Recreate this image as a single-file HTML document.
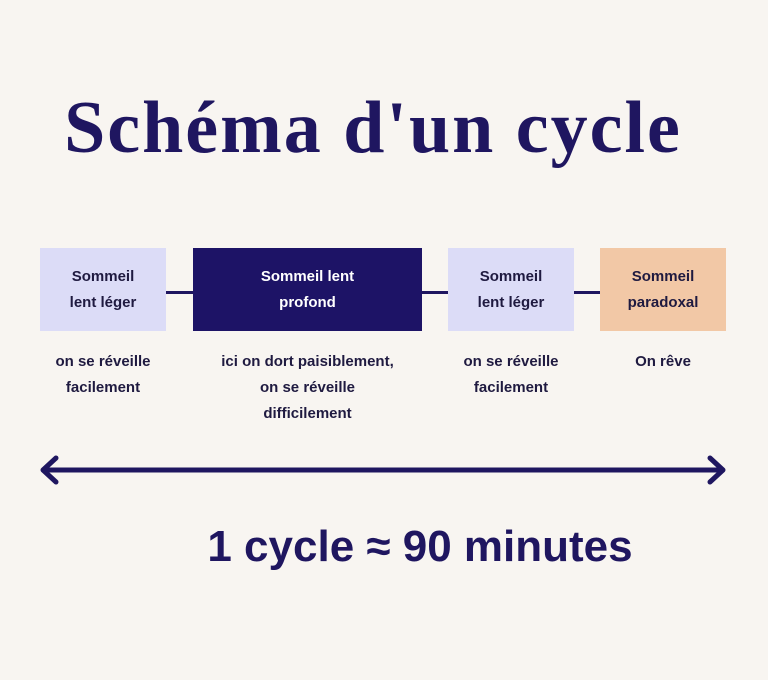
<!DOCTYPE html>
<html><head><meta charset="utf-8"><style>
body{margin:0;width:768px;height:680px;background:#f8f5f1;overflow:hidden;position:relative;font-family:"Liberation Sans",sans-serif;color:#1f1660}
.t{position:absolute;left:0;width:746px;top:86px;text-align:center;font-family:"Liberation Serif",serif;font-weight:bold;font-size:74px;letter-spacing:2px;line-height:84px}
.b{position:absolute;top:248px;height:83px;display:flex;align-items:center;justify-content:center;text-align:center;font-weight:bold;font-size:15px;line-height:26px;color:#1f1a40}
.l{position:absolute;top:291px;height:3px;background:#1f1660}
.d{position:absolute;top:349px;text-align:center;font-weight:bold;font-size:15px;line-height:26px;color:#1f1a40}
</style></head><body>
<div class="t">Schéma d'un cycle</div>
<div class="l" style="left:166px;width:27px"></div>
<div class="l" style="left:422px;width:26px"></div>
<div class="l" style="left:574px;width:26px"></div>
<div class="b" style="left:40px;width:126px;background:#dcdcf7">Sommeil<br>lent léger</div>
<div class="b" style="left:193px;width:229px;background:#1d1366;color:#fff">Sommeil lent<br>profond</div>
<div class="b" style="left:448px;width:126px;background:#dcdcf7">Sommeil<br>lent léger</div>
<div class="b" style="left:600px;width:126px;background:#f2c8a6">Sommeil<br>paradoxal</div>
<div class="d" style="left:30px;width:146px">on se réveille<br>facilement</div>
<div class="d" style="left:183px;width:249px">ici on dort paisiblement,<br>on se réveille<br>difficilement</div>
<div class="d" style="left:438px;width:146px">on se réveille<br>facilement</div>
<div class="d" style="left:590px;width:146px">On rêve</div>
<svg style="position:absolute;left:0;top:0" width="768" height="680">
<line x1="44" y1="470" x2="722" y2="470" stroke="#1f1660" stroke-width="5"/>
<polyline points="56,458 43,470 56,482" fill="none" stroke="#1f1660" stroke-width="5" stroke-linecap="round" stroke-linejoin="round"/>
<polyline points="710,458 723,470 710,482" fill="none" stroke="#1f1660" stroke-width="5" stroke-linecap="round" stroke-linejoin="round"/>
</svg>
<div style="position:absolute;left:0;width:840px;top:521px;text-align:center;font-weight:bold;font-size:44px;line-height:52px">1 cycle ≈ 90 minutes</div>
</body></html>
